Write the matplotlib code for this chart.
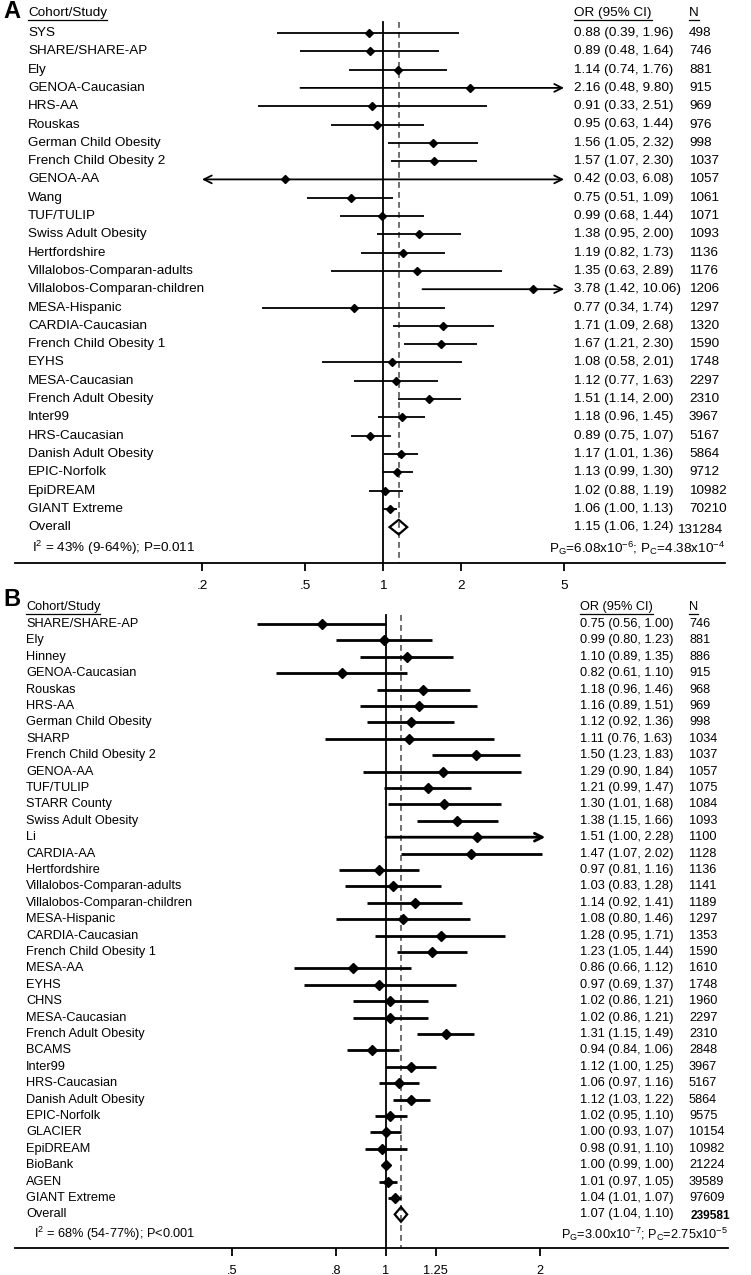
import numpy as np
import matplotlib
matplotlib.use('Agg')
import matplotlib.pyplot as plt
from matplotlib.patches import Polygon
from matplotlib.lines import Line2D

plt.rcParams['font.family'] = ['Liberation Sans', 'DejaVu Sans']
plt.rcParams['mathtext.default'] = 'regular'

# ---------------- panel A data ----------------
studies_a = ['SYS', 'SHARE/SHARE-AP', 'Ely', 'GENOA-Caucasian', 'HRS-AA', 'Rouskas',
             'German Child Obesity', 'French Child Obesity 2', 'GENOA-AA', 'Wang', 'TUF/TULIP',
             'Swiss Adult Obesity', 'Hertfordshire', 'Villalobos-Comparan-adults',
             'Villalobos-Comparan-children', 'MESA-Hispanic', 'CARDIA-Caucasian',
             'French Child Obesity 1', 'EYHS', 'MESA-Caucasian', 'French Adult Obesity', 'Inter99',
             'HRS-Caucasian', 'Danish Adult Obesity', 'EPIC-Norfolk', 'EpiDREAM', 'GIANT Extreme']
or_a = [0.88, 0.89, 1.14, 2.16, 0.91, 0.95, 1.56, 1.57, 0.42, 0.75, 0.99, 1.38, 1.19, 1.35, 3.78,
        0.77, 1.71, 1.67, 1.08, 1.12, 1.51, 1.18, 0.89, 1.17, 1.13, 1.02, 1.06]
lo_a = [0.39, 0.48, 0.74, 0.48, 0.33, 0.63, 1.05, 1.07, 0.03, 0.51, 0.68, 0.95, 0.82, 0.63, 1.42,
        0.34, 1.09, 1.21, 0.58, 0.77, 1.14, 0.96, 0.75, 1.01, 0.99, 0.88, 1.00]
hi_a = [1.96, 1.64, 1.76, 9.80, 2.51, 1.44, 2.32, 2.30, 6.08, 1.09, 1.44, 2.00, 1.73, 2.89, 10.06,
        1.74, 2.68, 2.30, 2.01, 1.63, 2.00, 1.45, 1.07, 1.36, 1.30, 1.19, 1.13]
n_a = [498, 746, 881, 915, 969, 976, 998, 1037, 1057, 1061, 1071, 1093, 1136, 1176, 1206, 1297,
       1320, 1590, 1748, 2297, 2310, 3967, 5167, 5864, 9712, 10982, 70210]
overall_a = (1.15, 1.06, 1.24, 131284)
het_a = 'I$^2$ = 43% (9-64%); P=0.011'
pval_a = 'P$_G$=6.08x10$^{-6}$; P$_C$=4.38x10$^{-4}$'
ticks_a = [0.2, 0.5, 1, 2, 5]
ticklabels_a = ['.2', '.5', '1', '2', '5']

# ---------------- panel B data ----------------
studies_b = ['SHARE/SHARE-AP', 'Ely', 'Hinney', 'GENOA-Caucasian', 'Rouskas', 'HRS-AA',
             'German Child Obesity', 'SHARP', 'French Child Obesity 2', 'GENOA-AA', 'TUF/TULIP',
             'STARR County', 'Swiss Adult Obesity', 'Li', 'CARDIA-AA', 'Hertfordshire',
             'Villalobos-Comparan-adults', 'Villalobos-Comparan-children', 'MESA-Hispanic',
             'CARDIA-Caucasian', 'French Child Obesity 1', 'MESA-AA', 'EYHS', 'CHNS',
             'MESA-Caucasian', 'French Adult Obesity', 'BCAMS', 'Inter99', 'HRS-Caucasian',
             'Danish Adult Obesity', 'EPIC-Norfolk', 'GLACIER', 'EpiDREAM', 'BioBank', 'AGEN',
             'GIANT Extreme']
or_b = [0.75, 0.99, 1.10, 0.82, 1.18, 1.16, 1.12, 1.11, 1.50, 1.29, 1.21, 1.30, 1.38, 1.51, 1.47,
        0.97, 1.03, 1.14, 1.08, 1.28, 1.23, 0.86, 0.97, 1.02, 1.02, 1.31, 0.94, 1.12, 1.06, 1.12,
        1.02, 1.00, 0.98, 1.00, 1.01, 1.04]
lo_b = [0.56, 0.80, 0.89, 0.61, 0.96, 0.89, 0.92, 0.76, 1.23, 0.90, 0.99, 1.01, 1.15, 1.00, 1.07,
        0.81, 0.83, 0.92, 0.80, 0.95, 1.05, 0.66, 0.69, 0.86, 0.86, 1.15, 0.84, 1.00, 0.97, 1.03,
        0.95, 0.93, 0.91, 0.99, 0.97, 1.01]
hi_b = [1.00, 1.23, 1.35, 1.10, 1.46, 1.51, 1.36, 1.63, 1.83, 1.84, 1.47, 1.68, 1.66, 2.28, 2.02,
        1.16, 1.28, 1.41, 1.46, 1.71, 1.44, 1.12, 1.37, 1.21, 1.21, 1.49, 1.06, 1.25, 1.16, 1.22,
        1.10, 1.07, 1.10, 1.00, 1.05, 1.07]
n_b = [746, 881, 886, 915, 968, 969, 998, 1034, 1037, 1057, 1075, 1084, 1093, 1100, 1128, 1136,
       1141, 1189, 1297, 1353, 1590, 1610, 1748, 1960, 2297, 2310, 2848, 3967, 5167, 5864, 9575,
       10154, 10982, 21224, 39589, 97609]
overall_b = (1.07, 1.04, 1.10, 239581)
het_b = 'I$^2$ = 68% (54-77%); P<0.001'
pval_b = 'P$_G$=3.00x10$^{-7}$; P$_C$=2.75x10$^{-5}$'
ticks_b = [0.5, 0.8, 1, 1.25, 2]
ticklabels_b = ['.5', '.8', '1', '1.25', '2']

W, H = 751, 1275
fig = plt.figure(figsize=(W / 100, H / 100), dpi=100)


def forest(p):
    # p holds layout in pixel units of the final image
    left, right, top, bottom = p['left'], p['right'], p['top'], p['bottom']
    ax = fig.add_axes([left / W, 1 - bottom / H, (right - left) / W, (bottom - top) / H])
    ax.set_xscale('log')
    ax.set_xlim(p['xlim'])
    row0, step = p['row0'], p['step']
    ax.set_ylim((bottom - row0) / step, (top - row0) / step)
    for s in ['top', 'right', 'left']:
        ax.spines[s].set_visible(False)
    ax.spines['bottom'].set_linewidth(1.3)
    ax.set_yticks([])
    ax.set_xticks(p['ticks'])
    ax.set_xticklabels(p['ticklabels'], fontsize=p['fs'])
    ax.minorticks_off()
    ax.tick_params(axis='x', direction='out', length=6, width=1.3, pad=6)

    def xf(px):
        return (px - left) / (right - left)

    trans = ax.get_yaxis_transform()  # x in axes fraction, y in data
    n = len(p['studies'])
    rows = np.arange(n)
    yline = (p['vtop'] - row0) / step
    ybot = (bottom - row0) / step
    ov, olo, ohi, on = p['overall']
    ax.plot([1, 1], [yline, ybot], color='black', lw=1.3, zorder=2)
    ax.plot([ov, ov], [yline, ybot], color='#555555', lw=1.2, ls=(0, (3.5, 2.5)), zorder=2)

    cmin, cmax = p['clip']
    for i in rows:
        lo, hi, est = p['lo'][i], p['hi'][i], p['or'][i]
        a, b = max(lo, cmin), min(hi, cmax)
        if lo < cmin or hi > cmax:
            style = '<->' if (lo < cmin and hi > cmax) else ('->' if hi > cmax else '<-')
            ax.annotate('', xy=(b, i), xytext=(a, i),
                        arrowprops=dict(arrowstyle=style, lw=p['lw'], color='black',
                                        mutation_scale=14, shrinkA=0, shrinkB=0))
        else:
            ax.plot([a, b], [i, i], color='black', lw=p['lw'], solid_capstyle='butt', zorder=3)
        ax.plot(est, i, marker='D', color='black', ms=p['ms'], zorder=4)
        ax.text(xf(p['x_lab']), i, p['studies'][i], transform=trans, fontsize=p['fs'],
                va='center', ha='left')
        ax.text(xf(p['x_or']), i, '%.2f (%.2f, %.2f)' % (est, lo, hi), transform=trans,
                fontsize=p['fs'], va='center', ha='left')
        ax.text(xf(p['x_n']), i, str(p['n'][i]), transform=trans, fontsize=p['fs'],
                va='center', ha='left')

    yo = n
    h = p['dh']
    ax.add_patch(Polygon([[olo, yo], [ov, yo - h], [ohi, yo], [ov, yo + h]], closed=True,
                         fill=False, edgecolor='black', lw=1.6, zorder=5))
    ax.text(xf(p['x_lab']), yo, 'Overall', transform=trans, fontsize=p['fs'], va='center')
    ax.text(xf(p['x_or']), yo, '%.2f (%.2f, %.2f)' % (ov, olo, ohi), transform=trans,
            fontsize=p['fs'], va='center')
    ax.text(xf(p['x_ntot']), yo + p['ntot_dy'], str(on), transform=trans,
            fontsize=p['fs_tot'], va='center', fontweight=p['tot_weight'])
    yh = (p['y_het'] - row0) / step
    ax.text(xf(p['x_het']), yh, p['het'], transform=trans, fontsize=p['fs'], va='center')
    ax.text(xf(right), yh, p['pval'], transform=trans, fontsize=p['fs'], va='center', ha='right')

    yhd = (p['y_head'] - row0) / step
    heads = [ax.text(xf(p['x_lab']), yhd, 'Cohort/Study', transform=trans, fontsize=p['fs'],
                     va='center'),
             ax.text(xf(p['x_or']), yhd, 'OR (95% CI)', transform=trans, fontsize=p['fs'],
                     va='center'),
             ax.text(xf(p['x_n']), yhd, 'N', transform=trans, fontsize=p['fs'], va='center')]
    fig.text(p['x_letter'] / W, 1 - p['y_letter'] / H, p['letter'], fontsize=17,
             fontweight='bold', va='center', ha='left')
    return heads


panel_a = dict(left=15, right=725, top=4, bottom=563, row0=33, step=18.3,
               xlim=(10 ** ((15 - 383) / 259), 10 ** ((725 - 383) / 259)),
               ticks=ticks_a, ticklabels=ticklabels_a, fs=9.7, lw=1.3, ms=4.2, dh=0.4,
               studies=studies_a, lo=lo_a, hi=hi_a, n=n_a, overall=overall_a,
               het=het_a, pval=pval_a, clip=(0.2, 5), vtop=22,
               x_lab=28, x_or=574, x_n=689, x_ntot=677, ntot_dy=0.15, fs_tot=9.7,
               tot_weight='normal', x_het=32, y_het=548, y_head=13,
               letter='A', x_letter=3, y_letter=12)
panel_a['or'] = or_a

panel_b = dict(left=15, right=728, top=598, bottom=1248, row0=624, step=16.4,
               xlim=(10 ** ((15 - 386) / 511), 10 ** ((728 - 386) / 511)),
               ticks=ticks_b, ticklabels=ticklabels_b, fs=9.2, lw=2.0, ms=5.5, dh=0.45,
               studies=studies_b, lo=lo_b, hi=hi_b, n=n_b, overall=overall_b,
               het=het_b, pval=pval_b, clip=(0.5, 2.05), vtop=615,
               x_lab=26, x_or=580, x_n=689, x_ntot=691, ntot_dy=0.1, fs_tot=8.6,
               tot_weight='bold', x_het=34, y_het=1234, y_head=607,
               letter='B', x_letter=3, y_letter=600)
panel_b['or'] = or_b

heads = forest(panel_a) + forest(panel_b)

# underline the column headers
fig.canvas.draw()
r = fig.canvas.get_renderer()
for t in heads:
    bb = t.get_window_extent(renderer=r)
    y = bb.y0 - 0.5
    fig.add_artist(Line2D([bb.x0 / W, bb.x1 / W], [y / H, y / H], color='black', lw=0.9,
                          transform=fig.transFigure))

fig.savefig('out.png', dpi=100)
